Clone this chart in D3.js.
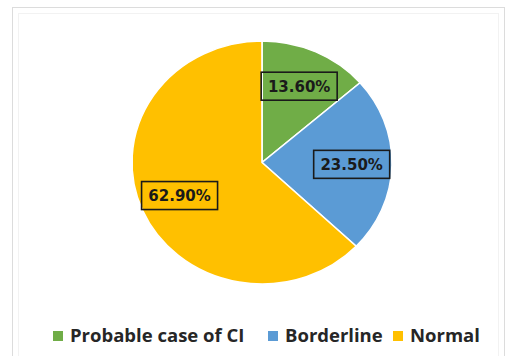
<!DOCTYPE html>
<html><head><meta charset="utf-8">
<script src="https://cdn.jsdelivr.net/npm/d3@7"></script>
<style>html,body{margin:0;padding:0;background:#fff;}</style>
</head><body>
<svg id="c" width="506" height="356"></svg>
<script>
const categories = ["Probable case of CI", "Borderline", "Normal"];
const values = [13.6, 23.5, 62.9];
const labels = ["13.60%", "23.50%", "62.90%"];
const colors = ["#70AD47", "#5B9BD5", "#FFC000"];

const svg = d3.select("#c");
// frame
svg.append("rect").attr("x",12.5).attr("y",7.5).attr("width",492).attr("height",360)
  .attr("fill","none").attr("stroke","#dcdcdc");
svg.append("rect").attr("x",18.5).attr("y",13.5).attr("width",480).attr("height",360)
  .attr("fill","none").attr("stroke","#f2f2f2");

const cx = 262, cy = 162.5, R = 130, sy = 121.5/130;
const pie = d3.pie().sort(null).value(d=>d)(values);
const arc = d3.arc().innerRadius(0).outerRadius(R);
const g = svg.append("g").attr("transform",`translate(${cx},${cy}) scale(1,${sy})`);
g.selectAll("path").data(pie).join("path")
  .attr("d",arc).attr("fill",(d,i)=>colors[i])
  .attr("stroke","#fff").attr("stroke-width",1.6);

const lr = 0.69*R;
const lg = svg.append("g").attr("transform",`translate(${cx},${cy})`);
pie.forEach((d,i)=>{
  const a = (d.startAngle+d.endAngle)/2;
  const x = Math.sin(a)*lr, y = -Math.cos(a)*lr*sy;
  lg.append("rect").attr("x",x-38).attr("y",y-14)
    .attr("width",76).attr("height",28)
    .attr("fill","none").attr("stroke","#1a1a1a").attr("stroke-width",1.6);
  lg.append("text").attr("x",x).attr("y",y)
    .attr("text-anchor","middle").attr("dy","0.36em")
    .attr("font-family","'DejaVu Sans', sans-serif").attr("font-weight","bold")
    .attr("font-size",15).attr("fill","#1a1a1a").text(labels[i]);
});

// legend
const legX = [53, 268, 393];
const leg = svg.append("g");
categories.forEach((c,i)=>{
  leg.append("rect").attr("x",legX[i]).attr("y",331).attr("width",10).attr("height",10).attr("fill",colors[i]);
  leg.append("text").attr("x",legX[i]+17).attr("y",342)
    .attr("font-family","'Open Sans', sans-serif").attr("font-weight","bold")
    .attr("font-size",18.5).attr("fill","#262626").text(c);
});
</script>
</body></html>
